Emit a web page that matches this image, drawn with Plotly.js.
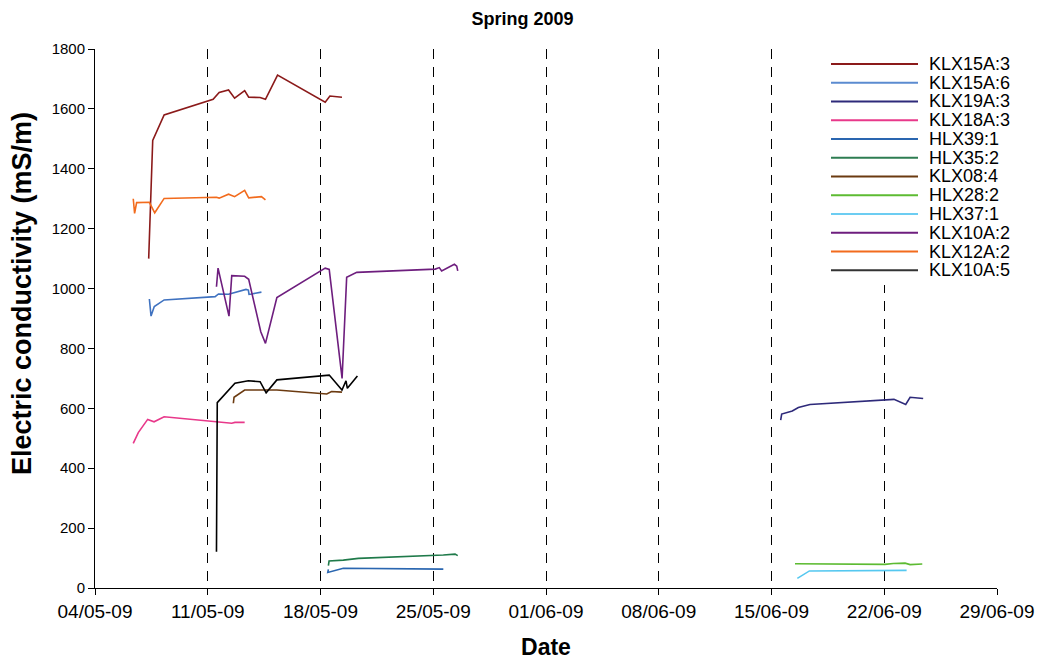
<!DOCTYPE html>
<html>
<head>
<meta charset="utf-8">
<script src="https://cdn.plot.ly/plotly-3.0.1.min.js"></script>
<style>html,body{margin:0;padding:0;background:#fff;}#chart{width:1045px;height:660px;}</style>
</head>
<body>
<div id="chart"></div>
<script>
// ---- data ----
const klx15a3_t = ['2009-05-07 08:00','2009-05-07 14:00','2009-05-08 07:00','2009-05-11 08:00','2009-05-11 17:00','2009-05-12 07:00','2009-05-12 16:00','2009-05-13 07:00','2009-05-13 13:00','2009-05-14 06:00','2009-05-14 14:00','2009-05-15 08:00','2009-05-18 07:00','2009-05-18 14:00','2009-05-19 08:00'];
const klx15a3_v = [1100,1495,1580,1632,1655,1663,1636,1661,1639,1638,1632,1713,1622,1643,1639];

const klx15a6_t = ['2009-05-07 09:00','2009-05-07 11:30','2009-05-07 16:20','2009-05-08 07:00','2009-05-11 11:00','2009-05-11 16:00','2009-05-12 07:00','2009-05-12 16:00','2009-05-13 09:00','2009-05-13 12:30','2009-05-13 13:30','2009-05-13 17:30','2009-05-14 08:00'];
const klx15a6_v = [965,908,940,962,973,982,981,987,997,995,981,982,988];

const klx19a3_t = ['2009-06-15 13:40','2009-06-15 15:10','2009-06-16 07:00','2009-06-16 16:00','2009-06-17 09:20','2009-06-22 01:00','2009-06-22 14:30','2009-06-23 08:00','2009-06-23 14:30','2009-06-24 10:00'];
const klx19a3_v = [561,581,591,603,613,628,630,613,637,633];

const klx18a3_t = ['2009-05-06 09:00','2009-05-06 16:30','2009-05-07 06:30','2009-05-07 16:00','2009-05-08 07:00','2009-05-10 22:00','2009-05-11 13:00','2009-05-12 11:45','2009-05-12 16:30','2009-05-13 07:00'];
const klx18a3_v = [483,519,563,555,572,558,554,550,553,553];

const hlx391_t = ['2009-05-18 11:45','2009-05-18 10:50','2009-05-19 10:00','2009-05-25 15:00'];
const hlx391_v = [62,52,66,63];

const hlx352_t = ['2009-05-18 11:45','2009-05-18 12:45','2009-05-19 10:00','2009-05-20 08:30','2009-05-25 15:00','2009-05-26 08:30','2009-05-26 12:30'];
const hlx352_v = [75,90,93,99,110,113,108];

const klx084_t = ['2009-05-12 14:10','2009-05-12 15:10','2009-05-13 07:00','2009-05-14 13:00','2009-05-15 07:00','2009-05-18 09:20','2009-05-18 16:30','2009-05-19 08:00'];
const klx084_v = [617,637,661,661,661,648,656,654];

const hlx282_t = ['2009-06-16 11:00','2009-06-22 01:00','2009-06-22 13:30','2009-06-23 07:00','2009-06-23 14:30','2009-06-24 08:40'];
const hlx282_v = [81,79,82,83,78,80];

const hlx371_t = ['2009-06-16 14:30','2009-06-17 08:30','2009-06-23 09:20'];
const hlx371_v = [32,57,59];

const klx10a2_t = ['2009-05-11 13:00','2009-05-11 15:20','2009-05-12 07:40','2009-05-12 11:45','2009-05-13 07:00','2009-05-13 13:00','2009-05-14 07:00','2009-05-14 14:00','2009-05-15 07:00','2009-05-18 07:00','2009-05-18 13:00','2009-05-19 08:10','2009-05-19 15:00','2009-05-20 06:00','2009-05-25 03:00','2009-05-25 09:00','2009-05-25 12:30','2009-05-26 07:30','2009-05-26 11:00','2009-05-26 12:30'];
const klx10a2_v = [1006,1068,908,1043,1041,1031,856,817,970,1068,1064,700,1038,1054,1065,1070,1059,1081,1075,1059];

const klx12a2_t = ['2009-05-06 09:00','2009-05-06 11:00','2009-05-06 14:00','2009-05-07 09:00','2009-05-07 17:00','2009-05-08 07:00','2009-05-11 13:00','2009-05-11 17:00','2009-05-12 07:00','2009-05-12 16:00','2009-05-13 07:00','2009-05-13 13:00','2009-05-14 08:00','2009-05-14 14:00'];
const klx12a2_v = [1300,1251,1287,1288,1253,1301,1305,1302,1315,1307,1328,1303,1307,1296];

const klx10a5_t = ['2009-05-11 13:00','2009-05-11 14:10','2009-05-12 16:30','2009-05-13 12:30','2009-05-14 06:00','2009-05-14 15:00','2009-05-15 07:00','2009-05-18 13:00','2009-05-19 08:00','2009-05-19 14:00','2009-05-19 16:00','2009-05-20 07:00'];
const klx10a5_v = [121,619,684,692,689,652,695,711,661,692,667,708];

const seriesNames = ['KLX15A:3','KLX15A:6','KLX19A:3','KLX18A:3','HLX39:1','HLX35:2','KLX08:4','HLX28:2','HLX37:1','KLX10A:2','KLX12A:2','KLX10A:5'];
const seriesT = [klx15a3_t,klx15a6_t,klx19a3_t,klx18a3_t,hlx391_t,hlx352_t,klx084_t,hlx282_t,hlx371_t,klx10a2_t,klx12a2_t,klx10a5_t];
const seriesV = [klx15a3_v,klx15a6_v,klx19a3_v,klx18a3_v,hlx391_v,hlx352_v,klx084_v,hlx282_v,hlx371_v,klx10a2_v,klx12a2_v,klx10a5_v];
const seriesColors = ['#8B1A1A','#3F72C0','#2E2A7A','#E8388A','#2A66B0','#1F7A4A','#6B3A10','#5DBB32','#55C8F0','#6E1E7E','#F26B1D','#000000'];
const legendColors = ['#8B1A1A','#5B8BD0','#2E2A7A','#E8388A','#2A66B0','#2E7D52','#6B3A10','#5DBB32','#6CCDF2','#6E1E7E','#F26B1D','#333333'];

const traces = seriesNames.map((n,i)=>({
  type:'scatter', mode:'lines', name:n, showlegend:false,
  x:seriesT[i], y:seriesV[i],
  line:{color:seriesColors[i], width:1.6}
}));

// ---- layout geometry (pixels) ----
const W=1045, H=660, L=95, R=48, T=49, B=72;
const pw = W-L-R, ph = H-T-B;
const px = v => (v-L)/pw;          // pixel x -> paper x
const py = v => (H-B-v)/ph;        // pixel y -> paper y

const FONT = 'Liberation Sans, Arial, sans-serif';

// custom legend (compact rows like the original)
const legTop=64, legStep=18.75, legLineX0=831, legLineX1=918, legTextX=927;
const shapes = [{type:'rect', xref:'paper', yref:'paper', x0:px(822), x1:px(1042), y0:py(285), y1:py(40),
  fillcolor:'#fff', line:{width:0}, layer:'above'}];
const annotations = [];
seriesNames.forEach((n,i)=>{
  const yy = legTop + i*legStep;
  shapes.push({type:'line', xref:'paper', yref:'paper', x0:px(legLineX0), x1:px(legLineX1), y0:py(yy), y1:py(yy),
    line:{color:legendColors[i], width:2}, layer:'above'});
  annotations.push({xref:'paper', yref:'paper', x:px(legTextX), y:py(yy), xanchor:'left', yanchor:'middle',
    text:n, showarrow:false, font:{size:18, family:FONT, color:'#000'}});
});
// y-axis title, placed like the original (slightly above the plot centre)
annotations.push({xref:'paper', yref:'paper', x:px(22), y:py(294), xanchor:'center', yanchor:'middle',
  textangle:-90, showarrow:false, text:'<b>Electric conductivity (mS/m)</b>', font:{size:27, family:FONT, color:'#000'}});

const layout = {
  width:W, height:H,
  margin:{l:L, r:R, t:T, b:B},
  paper_bgcolor:'#fff', plot_bgcolor:'#fff',
  font:{family:FONT, color:'#000', size:16},
  title:{text:'<b>Spring 2009</b>', x:0.5, xanchor:'center', y:0.972, yanchor:'middle', font:{size:18, family:FONT}},
  showlegend:false,
  shapes:shapes, annotations:annotations,
  xaxis:{
    type:'date', range:['2009-05-04','2009-06-29'],
    tick0:'2009-05-04', dtick:7*86400000, tickformat:'%d/%m-%y',
    showgrid:true, gridcolor:'#000', gridwidth:1, griddash:'10px,8px',
    showline:true, linecolor:'#000', linewidth:1,
    ticks:'outside', ticklen:6, tickcolor:'#000',
    zeroline:false, tickfont:{size:19},
    title:{text:'<b>Date</b>', font:{size:23}, standoff:18}
  },
  yaxis:{
    range:[0,1800], dtick:200, tick0:0,
    showgrid:false, showline:true, linecolor:'#000', linewidth:1,
    ticks:'outside', ticklen:6, tickcolor:'#000', zeroline:false,
    tickfont:{size:15}
  }
};
Plotly.newPlot('chart', traces, layout, {displayModeBar:false, staticPlot:true});
</script>
</body>
</html>
